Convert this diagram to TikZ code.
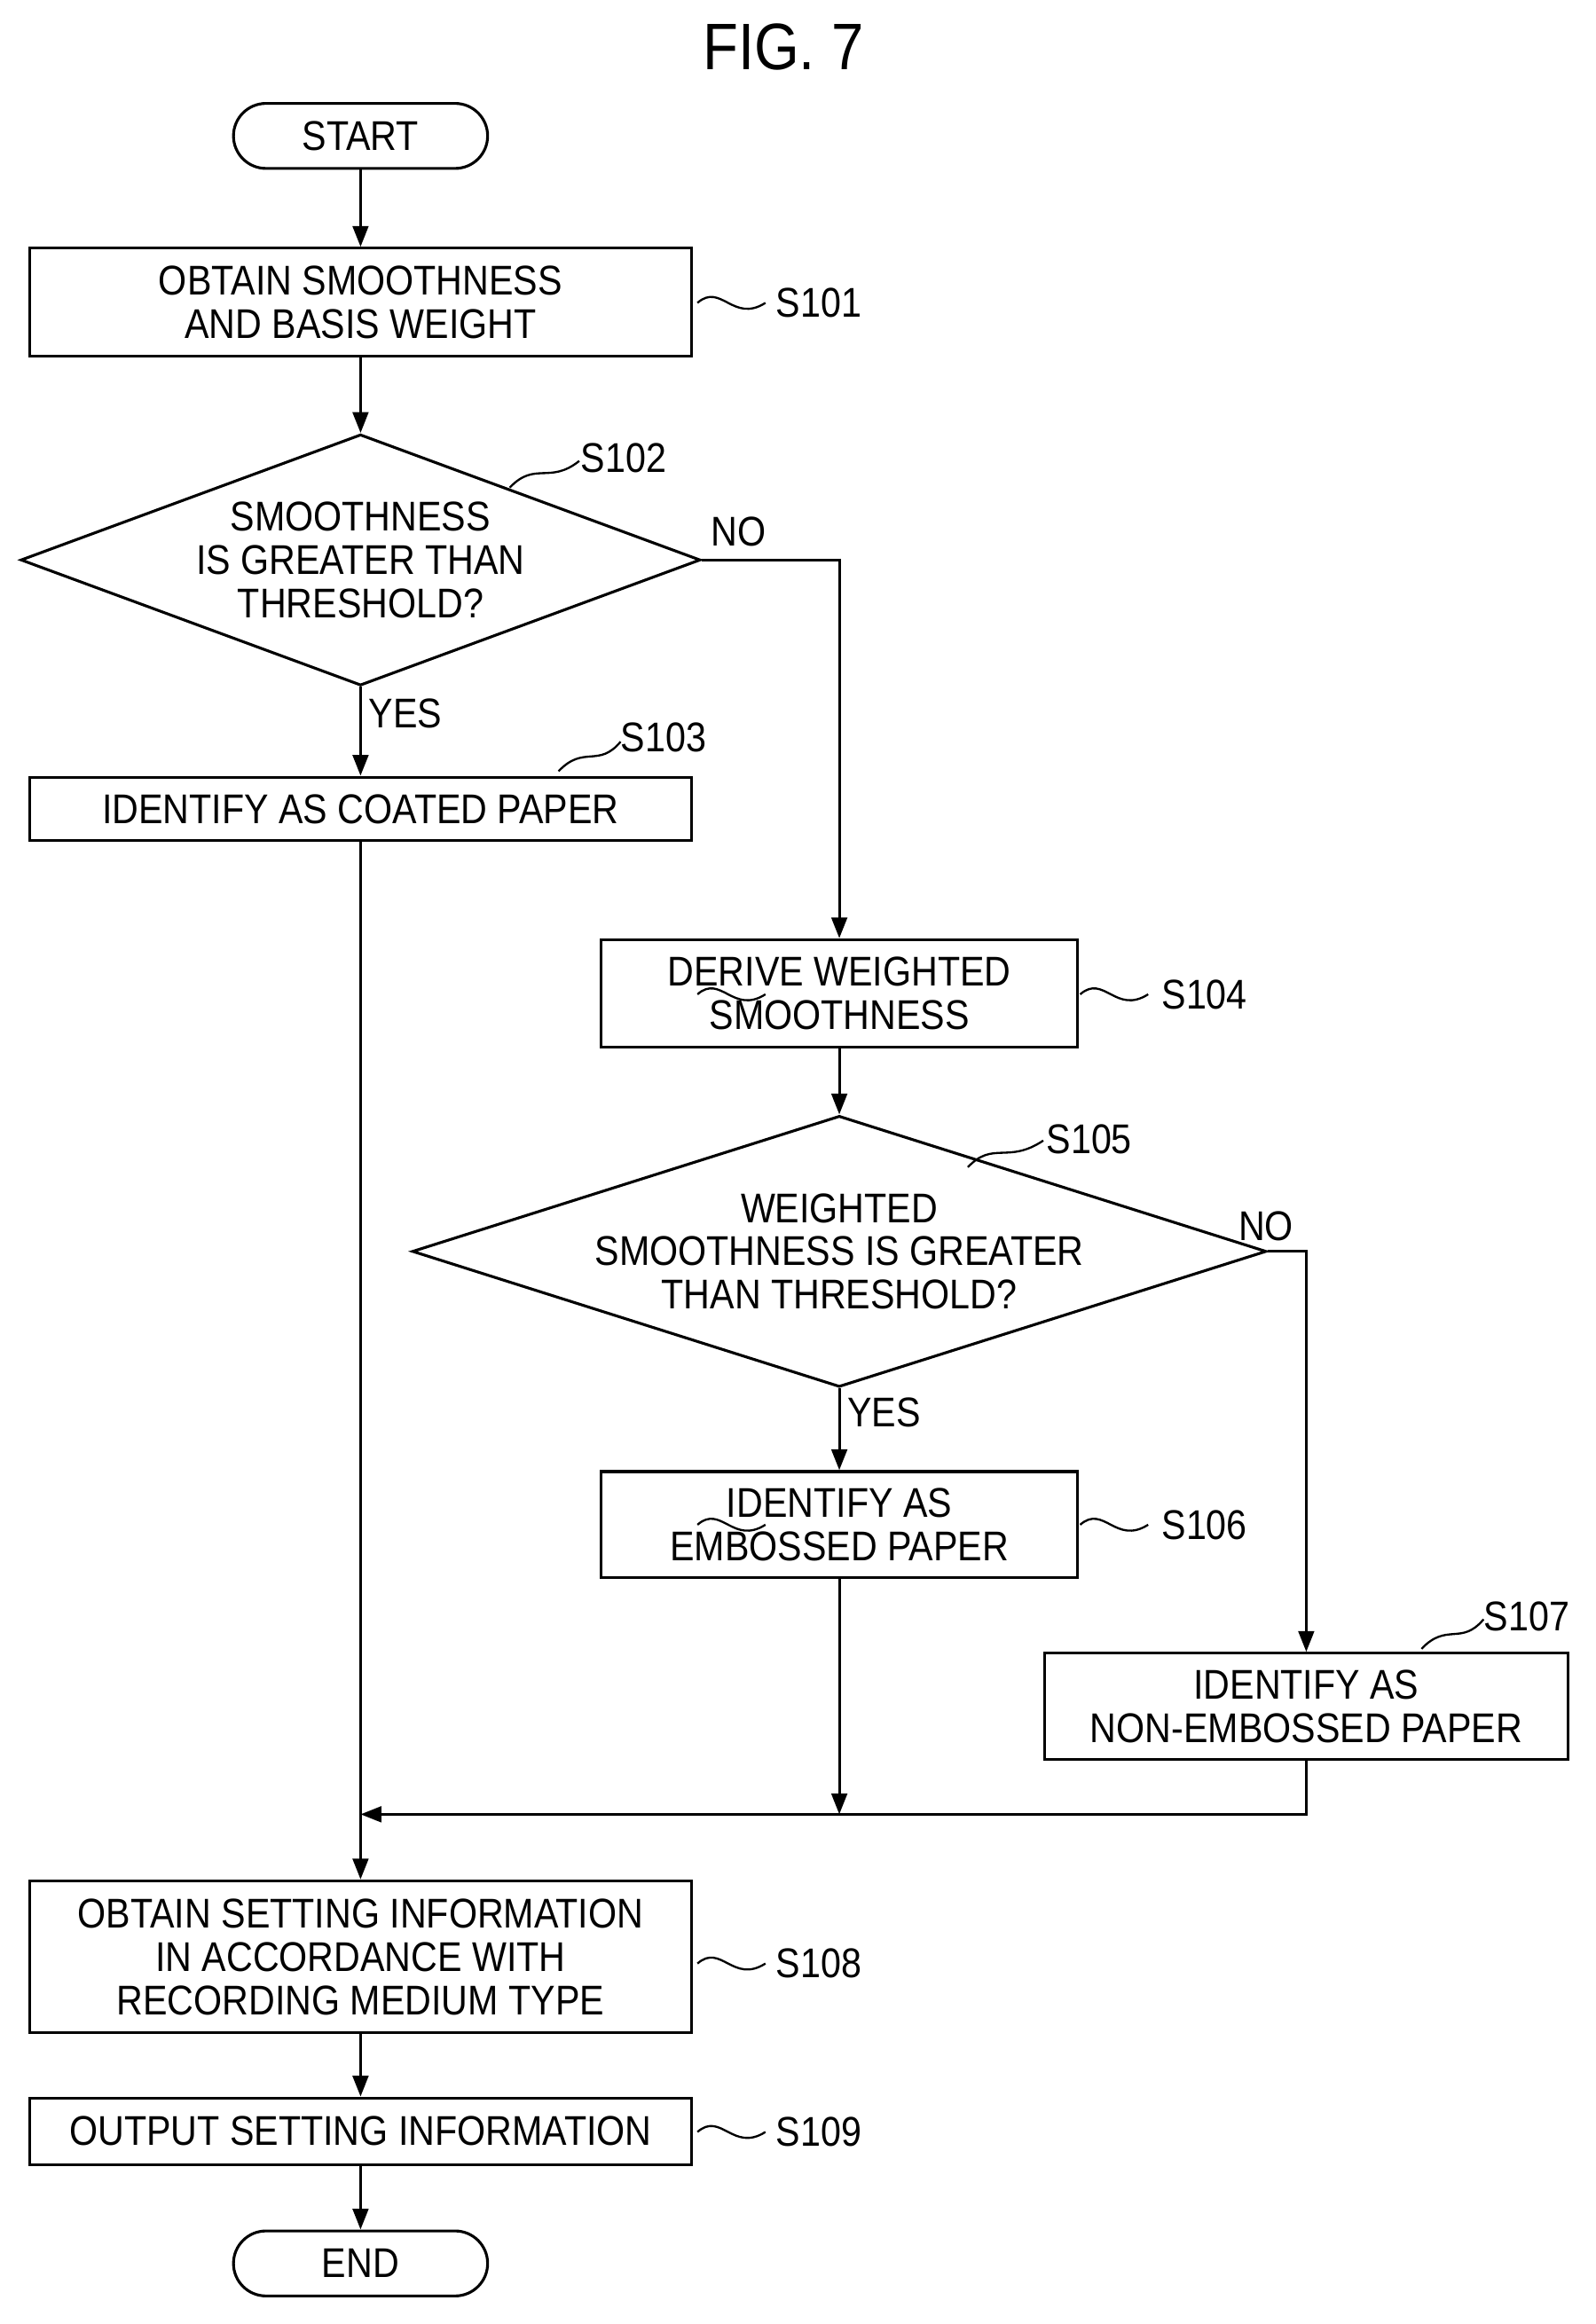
\documentclass[tikz,border=0pt]{standalone}
\usepackage{fontspec}
\setmainfont{Liberation Sans}[FakeStretch=0.88]
\usetikzlibrary{shapes.geometric,arrows.meta}
\begin{document}
\begin{tikzpicture}[x=0.03cm,y=-0.03cm,
  every node/.style={font=\fontsize{24}{25}\selectfont, inner sep=0pt, align=center},
  box/.style={draw, line width=1.6pt},
  ln/.style={line width=1.6pt},
  arr/.style={ln,-{Triangle[length=12pt,width=9pt]}},
  lab/.style={anchor=west},
  sq/.style={line width=1.2pt}]
\useasboundingbox (0,0) rectangle (1080,1573);
\node (fig) at (530,32) {\fontsize{38}{40}\selectfont FIG. 7};
\node[box,rounded corners=22*0.03cm, minimum width=172*0.03cm, minimum height=44*0.03cm] (start) at (244,92) {START};
\node[box, minimum width=448*0.03cm, minimum height=73*0.03cm] (s101) at (244,204.5) {OBTAIN SMOOTHNESS\\AND BASIS WEIGHT};
\node[box,diamond,aspect=2.7, minimum width=460*0.03cm, minimum height=170*0.03cm] (s102) at (244,379) {SMOOTHNESS\\IS GREATER THAN\\THRESHOLD?};
\node[box, minimum width=448*0.03cm, minimum height=43*0.03cm] (s103) at (244,547.5) {IDENTIFY AS COATED PAPER};
\node[box, minimum width=322*0.03cm, minimum height=73*0.03cm] (s104) at (568,672.5) {DERIVE WEIGHTED\\SMOOTHNESS};
\node[box,diamond,aspect=3.15, minimum width=530*0.03cm, minimum height=168*0.03cm] (s105) at (568,847) {WEIGHTED\\SMOOTHNESS IS GREATER\\THAN THRESHOLD?};
\node[box, minimum width=322*0.03cm, minimum height=72*0.03cm] (s106) at (568,1032) {IDENTIFY AS\\EMBOSSED PAPER};
\node[box, minimum width=354*0.03cm, minimum height=72*0.03cm] (s107) at (884,1155) {IDENTIFY AS\\NON-EMBOSSED PAPER};
\node[box, minimum width=448*0.03cm, minimum height=103*0.03cm] (s108) at (244,1324.5) {OBTAIN SETTING INFORMATION\\IN ACCORDANCE WITH\\RECORDING MEDIUM TYPE};
\node[box, minimum width=448*0.03cm, minimum height=45*0.03cm] (s109) at (244,1442.5) {OUTPUT SETTING INFORMATION};
\node[box,rounded corners=22*0.03cm, minimum width=172*0.03cm, minimum height=44*0.03cm] (end) at (244,1532) {END};
% connectors
\draw[arr] (start) -- (s101);
\draw[arr] (s101) -- (s102);
\draw[arr] (s102.south) -- (s103.north) node[pos=0.3,anchor=west,xshift=4pt] {YES};
\draw[arr] (s102.east) -| (s104.north);
\node[anchor=south west] (no1) at (481,370) {NO};
\draw[arr] (s104) -- (s105);
\draw[arr] (s105.south) -- (s106.north) node[pos=0.3,anchor=west,xshift=4pt] {YES};
\draw[arr] (s105.east) -| (s107.north);
\node[anchor=south west] (no2) at (838,840) {NO};
\coordinate (m1) at (568,1228);
\coordinate (m2) at (244,1228);
\draw[arr] (s103.south) -- (s108.north);
\draw[arr] (s106.south) -- (m1);
\draw[arr] (s107.south) |- (m2);
\draw[arr] (s108) -- (s109);
\draw[arr] (s109) -- (end);
% step labels
\foreach \n/\y in {S101/205,S104/673,S106/1032,S108/1329,S109/1443}{
  \draw[sq] (472,\y) .. controls (488,\y-14) and (496,\y+14) .. (518,\y);
}
\draw[sq] (731,673) .. controls (747,659) and (755,687) .. (777,673);
\draw[sq] (731,1032) .. controls (747,1018) and (755,1046) .. (777,1032);
\node[lab] (l101) at (525,205) {S101};
\node[lab] (l104) at (786,673) {S104};
\node[lab] (l106) at (786,1032) {S106};
\node[lab] (l108) at (525,1329) {S108};
\node[lab] (l109) at (525,1443) {S109};
\draw[sq] (345,330) .. controls (362,312) and (372,328) .. (392,312);
\node[lab] (l102) at (393,310) {S102};
\draw[sq] (378,522) .. controls (395,504) and (405,520) .. (420,502);
\node[lab] (l103) at (420,499) {S103};
\draw[sq] (655,790) .. controls (672,772) and (682,788) .. (706,772);
\node[lab] (l105) at (708,771) {S105};
\draw[sq] (962,1116) .. controls (979,1098) and (989,1114) .. (1004,1096);
\node[lab] (l107) at (1004,1094) {S107};
\end{tikzpicture}
\end{document}
